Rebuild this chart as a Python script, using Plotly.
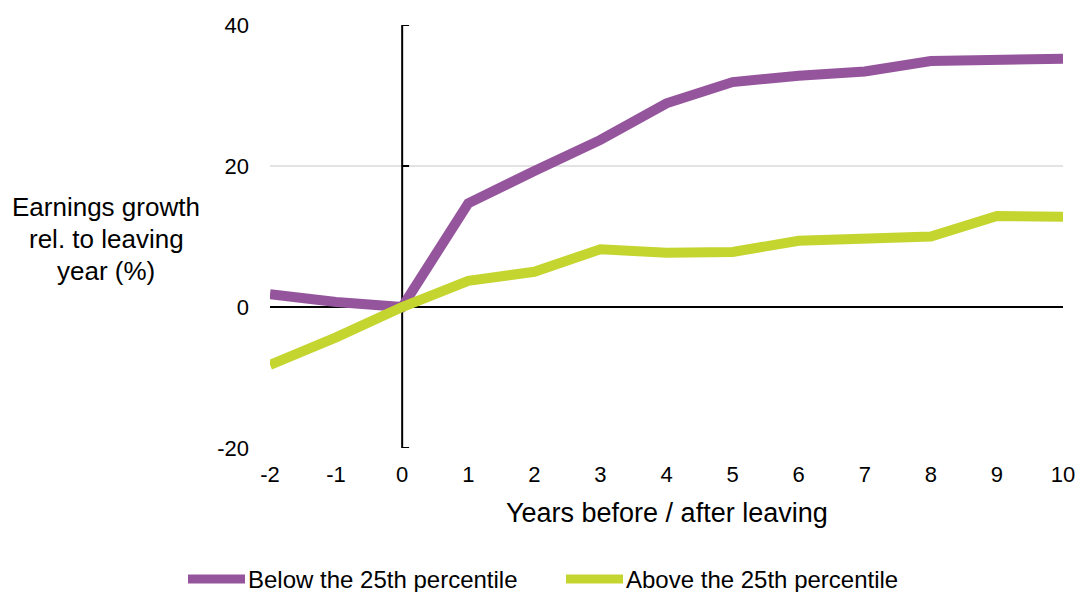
import plotly.graph_objects as go

# Years relative to leaving year
years = [-2, -1, 0, 1, 2, 3, 4, 5, 6, 7, 8, 9, 10]

# Earnings growth relative to the leaving year (%)
below_25th = [1.8, 0.7, 0.0, 14.7, 19.3, 23.7, 28.9, 31.9, 32.8, 33.4, 34.9, 35.0, 35.2]
above_25th = [-8.2, -4.3, 0.0, 3.7, 5.0, 8.2, 7.7, 7.8, 9.4, 9.6, 10.0, 12.9, 12.8]

series_names = ["Below the 25th percentile", "Above the 25th percentile"]
series_colors = ["#95559C", "#C5D530"]

y_ticks = [-20, 0, 20, 40]
x_ticks = years
y_title_lines = ["Earnings growth", "rel. to leaving", "year (%)"]

FONT = "Liberation Sans, Arial, sans-serif"

# Plot-area geometry in pixels (used to place paper-referenced extras)
plot_left, plot_w, plot_bottom, plot_h = 270, 793, 448, 423


def px_x(px):
    return (px - plot_left) / plot_w


def px_y(py):
    return (plot_bottom - py) / plot_h


fig = go.Figure()
for name, vals, col in zip(series_names, [below_25th, above_25th], series_colors):
    fig.add_trace(go.Scatter(
        x=years, y=vals, mode="lines", name=name,
        line=dict(color=col, width=10), showlegend=False,
        hoverinfo="x+y",
    ))

# Vertical axis line at year 0 with short inward ticks
fig.add_shape(type="line", xref="x", yref="y", x0=0, x1=0, y0=-20, y1=40,
              line=dict(color="black", width=2), layer="between")
for t in y_ticks:
    fig.add_shape(type="line", xref="x", yref="y", x0=0, x1=0.105, y0=t, y1=t,
                  line=dict(color="black", width=2), layer="between")

# Horizontal zero line
fig.add_shape(type="line", xref="x", yref="y", x0=-2, x1=10, y0=0, y1=0,
              line=dict(color="black", width=2), layer="between")

# Y title, one line per annotation
for line_text, py in zip(y_title_lines, [207, 239, 271]):
    fig.add_annotation(
        text=line_text, xref="paper", yref="paper", x=px_x(106), y=px_y(py),
        xanchor="center", yanchor="middle", showarrow=False,
        font=dict(family=FONT, size=26, color="black"),
    )

# X title
fig.add_annotation(
    text="Years before / after leaving",
    xref="paper", yref="paper", x=0.5, y=px_y(513),
    xanchor="center", yanchor="middle", showarrow=False,
    font=dict(family=FONT, size=27, color="black"),
)

# Legend drawn below the plot
legend_items = [
    (series_names[0], series_colors[0], 188, 245),
    (series_names[1], series_colors[1], 566, 623),
]
leg_y = px_y(579)
for name, col, px0, px1 in legend_items:
    fig.add_shape(type="line", xref="paper", yref="paper",
                  x0=px_x(px0), x1=px_x(px1), y0=leg_y, y1=leg_y,
                  line=dict(color=col, width=9))
    fig.add_annotation(text=name, xref="paper", yref="paper",
                       x=px_x(px1 + 1), y=leg_y,
                       xanchor="left", yanchor="middle", showarrow=False,
                       font=dict(family=FONT, size=24, color="black"))

fig.update_layout(
    width=1080, height=592,
    margin=dict(l=270, r=17, t=25, b=144, autoexpand=False),
    paper_bgcolor="white", plot_bgcolor="white",
    font=dict(family=FONT, size=22, color="black"),
    xaxis=dict(
        range=[-2, 10], tickvals=x_ticks, ticktext=[str(v) for v in x_ticks],
        showgrid=False, zeroline=False, showline=False, ticks="",
        ticklabelstandoff=11, tickfont=dict(size=22), automargin=False,
    ),
    yaxis=dict(
        range=[-20, 40], tickvals=y_ticks, ticktext=[str(v) for v in y_ticks],
        showgrid=True, gridcolor="#E3E3E3", gridwidth=2,
        zeroline=False, showline=False, ticks="",
        ticklabelstandoff=20, tickfont=dict(size=22), automargin=False,
    ),
    showlegend=False,
)

fig.write_html("out.html")
